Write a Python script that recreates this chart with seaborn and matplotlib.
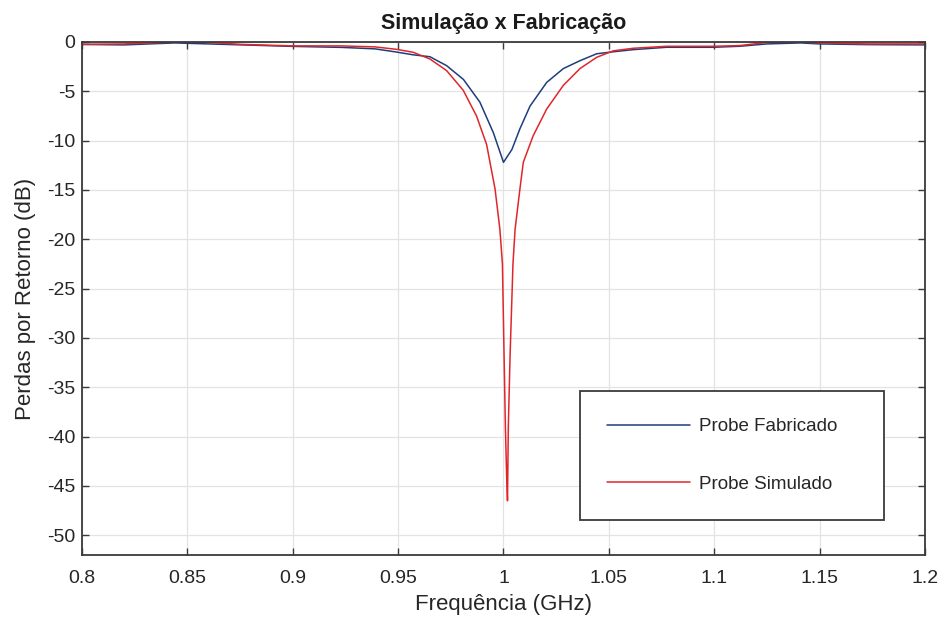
import matplotlib
matplotlib.use("Agg")
import matplotlib.pyplot as plt
import seaborn as sns
import numpy as np
import pandas as pd

# Simulated probe (red)
sim_freq = [0.800, 0.820, 0.845, 0.860, 0.876, 0.900, 0.923, 0.939, 0.9493, 0.9572,
            0.9651, 0.9730, 0.9809, 0.9872, 0.9920, 0.9960, 0.9983, 0.9995, 1.0003,
            1.0009, 1.0015, 1.0019, 1.0023, 1.0031, 1.0045, 1.0055, 1.0078, 1.0094,
            1.0141, 1.0205, 1.0284, 1.0363, 1.0442, 1.0521, 1.0616, 1.0774, 1.0995,
            1.112, 1.125, 1.141, 1.150, 1.172, 1.200]
sim_db = [-0.25, -0.2, 0.0, -0.05, -0.25, -0.4, -0.4, -0.5, -0.75, -1.05,
          -1.73, -2.9, -4.9, -7.5, -10.4, -14.9, -19.0, -22.5, -32.0,
          -39.0, -44.0, -46.5, -39.0, -32.0, -22.5, -19.0, -14.9, -12.2,
          -9.5, -6.8, -4.4, -2.7, -1.56, -0.9, -0.64, -0.44, -0.44,
          -0.37, -0.05, 0.0, -0.1, -0.2, -0.2]

# Fabricated probe (blue)
fab_freq = [0.800, 0.820, 0.844, 0.860, 0.876, 0.900, 0.923, 0.939, 0.9485, 0.957,
            0.9651, 0.973, 0.981, 0.9888, 0.9952, 1.000, 1.004, 1.0078, 1.0126,
            1.0205, 1.0284, 1.0363, 1.0442, 1.052, 1.0616, 1.0774, 1.0995, 1.112,
            1.125, 1.141, 1.150, 1.172, 1.200]
fab_db = [-0.25, -0.3, -0.1, -0.2, -0.3, -0.45, -0.55, -0.7, -1.0, -1.3,
          -1.5, -2.4, -3.8, -6.1, -9.2, -12.2, -10.9, -8.8, -6.5,
          -4.1, -2.7, -1.9, -1.2, -1.0, -0.78, -0.54, -0.54, -0.44,
          -0.2, -0.1, -0.2, -0.27, -0.3]

x_ticks = [0.8, 0.85, 0.9, 0.95, 1.0, 1.05, 1.1, 1.15, 1.2]
x_ticklabels = ["0.8", "0.85", "0.9", "0.95", "1", "1.05", "1.1", "1.15", "1.2"]
y_ticks = [0, -5, -10, -15, -20, -25, -30, -35, -40, -45, -50]

sns.set_theme(style="whitegrid")
plt.rcParams['font.family'] = ['Liberation Sans', 'DejaVu Sans']
plt.rcParams['axes.unicode_minus'] = False

fig = plt.figure(figsize=(9.41, 6.26), dpi=100)
ax = fig.add_axes([0.0871, 0.1134, 0.8959, 0.8196])
ax.set_facecolor("white")

sns.lineplot(x=fab_freq, y=fab_db, ax=ax, color="#1f3d7a", linewidth=1.1,
             estimator=None, sort=False, label="Probe Fabricado")
sns.lineplot(x=sim_freq, y=sim_db, ax=ax, color="#e0262b", linewidth=1.1,
             estimator=None, sort=False, label="Probe Simulado")

ax.set_xlim(0.8, 1.2)
ax.set_ylim(-52, 0)
ax.set_xticks(x_ticks)
ax.set_xticklabels(x_ticklabels)
ax.set_yticks(y_ticks)
ax.grid(True, color="#e3e3e3", linewidth=0.9)
for s in ax.spines.values():
    s.set_visible(True)
    s.set_color("#3a3a3a")
    s.set_linewidth(1.3)
ax.tick_params(direction="in", length=5, width=1, color="#3a3a3a",
               labelsize=14, labelcolor="#262626", top=True, right=True,
               bottom=True, left=True, labeltop=False, labelright=False)
ax.tick_params(axis="x", pad=11)
ax.tick_params(axis="y", pad=5)

ax.set_title("Simulação x Fabricação", fontsize=15.5, fontweight="bold",
             color="#1a1a1a", pad=9)
ax.set_xlabel("Frequência (GHz)", fontsize=16, color="#262626", labelpad=5)
ax.set_ylabel("Perdas por Retorno (dB)", fontsize=16, color="#262626", labelpad=8)

leg = ax.legend(loc="lower left", bbox_to_anchor=(0.591, 0.068, 0.360, 0.25),
                mode="expand", fontsize=13.5, frameon=True, fancybox=False,
                borderpad=1.45, labelspacing=2.15, handlelength=4.4,
                handletextpad=0.5, borderaxespad=0)
leg.get_frame().set_edgecolor("#3a3a3a")
leg.get_frame().set_linewidth(1.3)
leg.get_frame().set_alpha(1)
for t in leg.get_texts():
    t.set_color("#262626")

fig.savefig("out.png", dpi=100, facecolor="white")
